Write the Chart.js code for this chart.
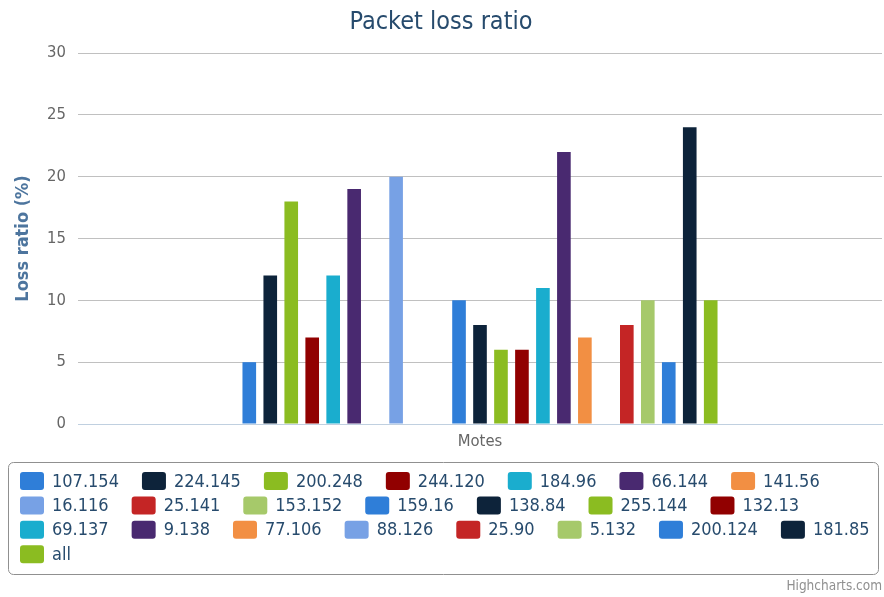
<!DOCTYPE html>
<html>
<head>
<meta charset="utf-8">
<title>Packet loss ratio</title>
<script src="https://cdn.jsdelivr.net/npm/chart.js@4.4.1/dist/chart.umd.min.js"></script>
<style>
  body { margin: 0; background: #fff; }
  #lossChart { display: block; }
</style>
</head>
<body>
<canvas id="lossChart" width="884" height="597"></canvas>
<script>
const categories = ['Motes'];
const seriesNames = [
  '107.154', '224.145', '200.248', '244.120', '184.96', '66.144', '141.56',
  '16.116', '25.141', '153.152', '159.16', '138.84', '255.144', '132.13',
  '69.137', '9.138', '77.106', '88.126', '25.90', '5.132', '200.124', '181.85',
  'all'
];
const lossValues = [5, 12, 18, 7, 12, 19, 0, 20, 0, 0, 10, 8, 6, 6, 11, 22, 7, 0, 8, 10, 5, 24, 10];
const yMin = 0;
const yMax = 30;
const yStep = 5;
const palette = ['#2f7ed8', '#0d233a', '#8bbc21', '#910000', '#1aadce',
                 '#492970', '#f28f43', '#77a1e5', '#c42525', '#a6c96a'];

const fontFamily = "'DejaVu Sans Condensed', 'DejaVu Sans', sans-serif";
Chart.defaults.font.family = fontFamily;

// legend in a rounded box + credits line, drawn the old highcharts way
const boxLegend = {
  id: 'boxLegend',
  afterDraw(chart) {
    const ctx = chart.ctx;
    ctx.save();
    ctx.strokeStyle = '#909090';
    ctx.lineWidth = 1;
    ctx.beginPath();
    ctx.roundRect(8.5, 462.5, 870, 112, 5);
    ctx.stroke();

    ctx.font = '18px ' + fontFamily;
    ctx.textBaseline = 'middle';
    let x = 20;
    let y = 472;
    chart.data.datasets.forEach((ds) => {
      const w = 24 + 8 + ctx.measureText(ds.label).width;
      if (x > 20 && x + w > 880) {
        x = 20;
        y += 24.4;
      }
      ctx.fillStyle = ds.backgroundColor;
      ctx.beginPath();
      ctx.roundRect(x, y, 24, 18, 3);
      ctx.fill();
      ctx.fillStyle = '#274b6d';
      ctx.fillText(ds.label, x + 32, y + 10);
      x += w + 23;
    });

    ctx.font = '13.5px ' + fontFamily;
    ctx.fillStyle = '#909090';
    ctx.textAlign = 'right';
    ctx.fillText('Highcharts.com', 882, 586);
    ctx.restore();
  }
};

const datasets = seriesNames.map((name, i) => ({
  label: name,
  data: [lossValues[i]],
  backgroundColor: palette[i % palette.length],
  barPercentage: 0.65,
  categoryPercentage: 0.6
}));

new Chart(document.getElementById('lossChart'), {
  type: 'bar',
  data: {
    labels: categories,
    datasets: datasets
  },
  plugins: [boxLegend],
  options: {
    responsive: false,
    animation: false,
    layout: { padding: { left: 0, right: 2, top: 0, bottom: 149 } },
    plugins: {
      legend: { display: false },
      tooltip: { enabled: false },
      title: {
        display: true,
        text: 'Packet loss ratio',
        color: '#274b6d',
        font: { size: 25, weight: 'normal' },
        padding: { top: 7, bottom: 16 }
      }
    },
    scales: {
      x: {
        grid: { display: false },
        border: { color: '#C0D0E0' },
        ticks: { color: '#666666', font: { size: 16.5 }, padding: 0 },
        afterFit: (scale) => { scale.height = 24; }
      },
      y: {
        min: yMin,
        max: yMax,
        ticks: { stepSize: yStep, color: '#666666', font: { size: 16.5 }, padding: 12 },
        grid: {
          drawTicks: false,
          color: (c) => (c.tick && c.tick.value === 0 ? 'rgba(0,0,0,0)' : '#C0C0C0')
        },
        border: { display: false },
        title: {
          display: true,
          text: 'Loss ratio (%)',
          color: '#4d759e',
          font: { size: 18, weight: 'bold' },
          padding: { top: 13, bottom: 0 }
        },
        afterFit: (scale) => { scale.width = 78; }
      }
    }
  }
});
</script>
</body>
</html>
